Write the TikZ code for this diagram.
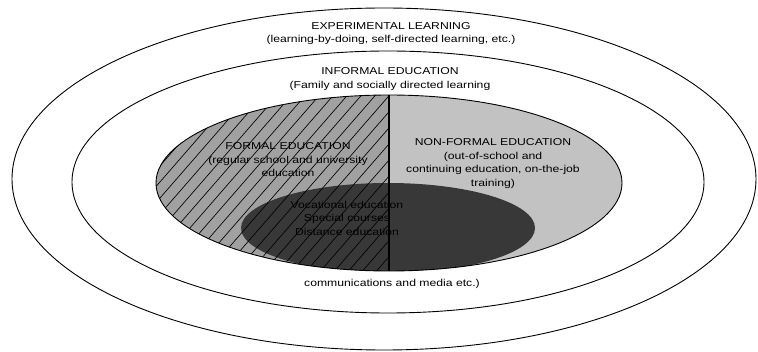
\documentclass[tikz,border=0pt]{standalone}
\usepackage{fontspec}
\newfontfamily\diagfont{Liberation Sans}[FakeStretch=1.22]
\usepackage{tikz}

\begin{document}
\begin{tikzpicture}[x=1pt,y=1pt,
            ring/.style={draw=black, line width=0.9pt},
            hatchline/.style={black, line width=0.65pt}]
            \tikzstyle{every node}+=[inner sep=0pt, align=center, font=\diagfont\fontsize{10}{13.5}\selectfont]
            \useasboundingbox (0,0) rectangle (758,-352);
            % the three rings
            \draw [ring] (384,-179) ellipse [x radius=372, y radius=171];
            \draw [ring] (388,-182) ellipse [x radius=316, y radius=131];
            \begin{scope}
                \clip (389,-183) ellipse [x radius=233, y radius=88];
                \fill [black!37] (150,-90) rectangle (389,-275);
                \fill [black!24] (389,-90) rectangle (630,-275);
                \fill [black!78] (388,-228) ellipse [x radius=147, y radius=45];
                \clip (150,-90) rectangle (389,-275);
                \foreach \i in {0,...,28}
                    \draw [hatchline] (-5+14*\i,-275) -- ++(161,185);
            \end{scope}
            \draw [ring] (389,-183) ellipse [x radius=233, y radius=88];
            \draw [black, line width=1.1pt] (389,-95) -- (389,-271);
            % labels
            \draw (391,-33.5) node (experiential) {EXPERIMENTAL LEARNING\\(learning-by-doing, self-directed learning, etc.)};
            \draw (390,-79) node (informal) {INFORMAL EDUCATION\\(Family and socially directed learning};
            \draw (288,-160) node (formal) {FORMAL EDUCATION\\(regular school and university\\education};
            \draw (493,-163.5) node (nonformal) {NON-FORMAL EDUCATION\\(out-of-school and\\continuing education, on-the-job\\training)};
            \draw (347,-218) node (overlap) {Vocational education\\Special courses\\Distance education};
            \draw (392,-283.5) node (media) {communications and media etc.)};
        \end{tikzpicture}
\end{document}
